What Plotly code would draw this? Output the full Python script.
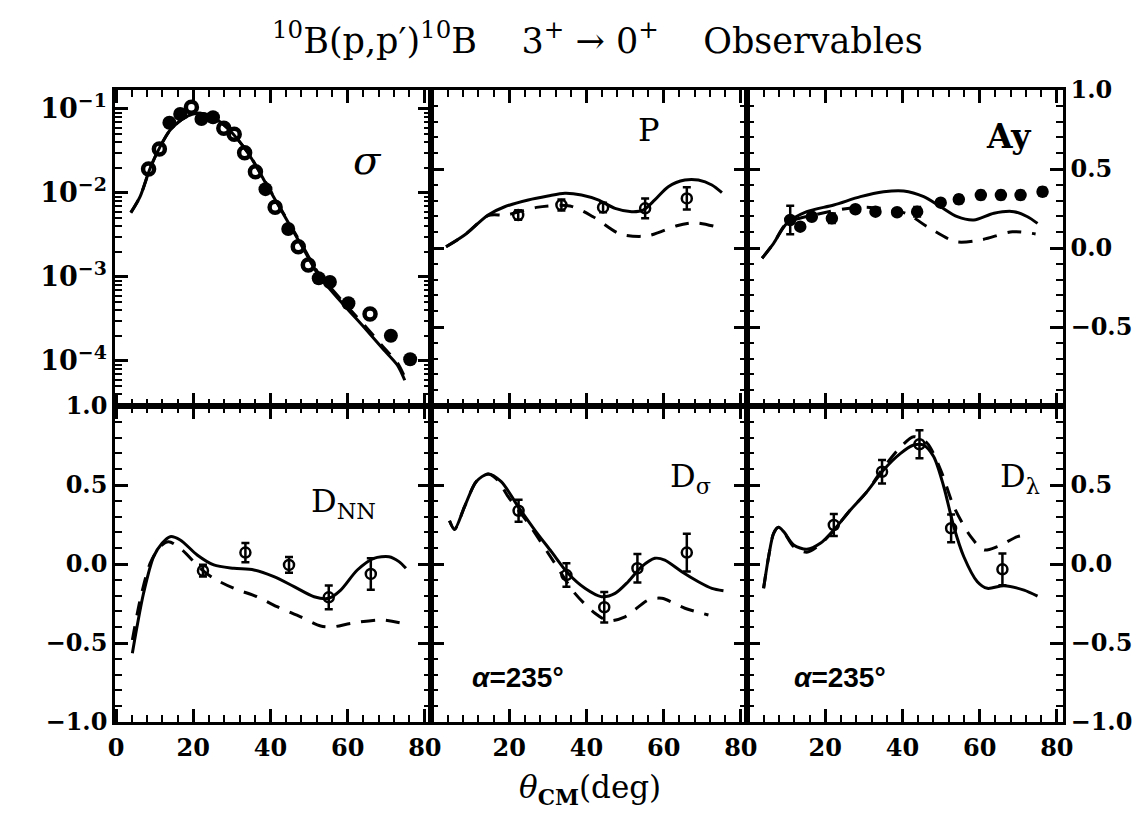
import plotly.graph_objects as go

# ---------------- data ----------------
# panel 1: cross section (log)
sig_open_x = [8.4, 11.2, 19.5, 27.9, 30.6, 33.3, 36.1, 41.2, 47.2, 49.8, 65.8]
sig_open_y = [0.0193, 0.0334, 0.105, 0.0589, 0.0501, 0.0302, 0.0179, 0.00676, 0.00229, 0.00139, 0.000363]
sig_fill_x = [13.8, 16.6, 22.1, 25.1, 38.7, 44.6, 52.5, 55.4, 60.2, 71.2, 76.2]
sig_fill_y = [0.0687, 0.0871, 0.0760, 0.0796, 0.0111, 0.00372, 0.000966, 0.000871, 0.000486, 0.000200, 0.000105]
sig_th_x = [3.8, 6.2, 8.8, 11.4, 14.0, 17.1, 19.7, 21.8, 24.4, 27.9, 31.3, 34.8, 38.3, 41.7, 45.2, 48.7, 52.1, 55.6, 59.0, 62.5, 66.0, 69.4, 72.9, 74.8]
sig_solid = [0.00583, 0.00904, 0.0197, 0.0356, 0.0562, 0.0753, 0.0865, 0.0887, 0.0826, 0.0646, 0.0447, 0.0270, 0.0143, 0.00759, 0.00398, 0.00209, 0.00111, 0.000700, 0.000465, 0.000309, 0.000204, 0.000135, 0.0000891, 0.0000589]
sig_dash = [0.00583, 0.00904, 0.0197, 0.0356, 0.0562, 0.0753, 0.0865, 0.0887, 0.0826, 0.0646, 0.0447, 0.0272, 0.0146, 0.00775, 0.00410, 0.00218, 0.00117, 0.000745, 0.000495, 0.000330, 0.000218, 0.000144, 0.0000950, 0.0000640]

# panel 2: P
p_sol_x = [3.6, 8.4, 14.5, 18.8, 24.9, 30.0, 34.4, 38.7, 43.0, 47.4, 51.7, 54.7, 57.7, 61.2, 65.5, 69.0, 72.5, 75.1]
p_sol_y = [0.008, 0.082, 0.209, 0.261, 0.304, 0.329, 0.346, 0.335, 0.304, 0.251, 0.230, 0.240, 0.304, 0.388, 0.430, 0.430, 0.399, 0.35]
p_dash_x = [3.6, 8.4, 14.5, 19.2, 27.0, 35.7, 41.7, 48.7, 55.6, 63.4, 68.1, 72.9]
p_dash_y = [0.008, 0.082, 0.205, 0.209, 0.257, 0.266, 0.198, 0.089, 0.076, 0.141, 0.160, 0.139]
p_dat_x = [22.3, 33.5, 44.3, 55.2, 66.0]
p_dat_y = [0.209, 0.272, 0.257, 0.251, 0.314]
p_dat_e = [0.03, 0.035, 0.03, 0.063, 0.07]

# panel 3: Ay
ay_sol_x = [3.6, 6.6, 10.0, 15.2, 22.2, 29.1, 35.1, 40.3, 45.5, 49.9, 54.2, 58.5, 63.7, 68.9, 72.4, 75.0]
ay_sol_y = [-0.065, 0.030, 0.156, 0.230, 0.272, 0.325, 0.356, 0.361, 0.325, 0.261, 0.198, 0.177, 0.220, 0.230, 0.198, 0.156]
ay_dash_x = [3.6, 6.6, 10.0, 17.0, 29.5, 40.8, 46.4, 53.8, 60.3, 68.5, 74.5]
ay_dash_y = [-0.065, 0.030, 0.156, 0.209, 0.259, 0.22, 0.135, 0.040, 0.051, 0.103, 0.089]
ay_dat_x = [10.9, 13.5, 16.5, 21.7, 27.8, 33.0, 38.6, 43.8, 49.9, 54.6, 60.3, 65.5, 70.6, 76.3]
ay_dat_y = [0.177, 0.135, 0.198, 0.188, 0.245, 0.23, 0.226, 0.23, 0.287, 0.308, 0.335, 0.335, 0.335, 0.356]
ay_dat_e = [0.09, 0.02, 0.015, 0.03, 0.015, 0.015, 0.015, 0.03, 0.015, 0.025, 0.025, 0.025, 0.025, 0.025]

# panel 4: D_NN
dnn_sol_x = [4.2, 5.4, 7.1, 9.7, 11.9, 14.0, 16.6, 21.0, 25.3, 30.5, 35.7, 40.9, 46.1, 51.3, 55.1, 58.2, 62.5, 66.8, 70.7, 73.3, 75.1]
dnn_sol_y = [-0.565, -0.397, -0.185, 0.046, 0.131, 0.173, 0.152, 0.057, -0.006, -0.027, -0.038, -0.080, -0.143, -0.207, -0.217, -0.165, -0.038, 0.036, 0.046, 0.015, -0.027]
dnn_dash_x = [4.2, 6.2, 8.8, 11.4, 13.6, 17.1, 21.8, 25.3, 30.5, 36.5, 41.7, 47.8, 53.0, 56.4, 60.8, 68.6, 75.1]
dnn_dash_y = [-0.481, -0.228, 0.004, 0.11, 0.141, 0.089, -0.027, -0.091, -0.154, -0.207, -0.27, -0.334, -0.392, -0.397, -0.376, -0.354, -0.38]
dnn_dat_x = [22.5, 33.5, 44.8, 55.1, 66.0]
dnn_dat_y = [-0.042, 0.072, -0.006, -0.211, -0.063]
dnn_dat_e = [0.037, 0.061, 0.05, 0.075, 0.10]

# panel 5: D_sigma
ds_sol_x = [4.5, 5.8, 8.4, 11.4, 14.5, 17.9, 22.3, 26.6, 30.9, 35.2, 39.6, 43.9, 47.4, 50.8, 54.3, 57.7, 60.3, 64.7, 69.0, 72.5, 75.5]
ds_sol_y = [0.274, 0.219, 0.363, 0.521, 0.570, 0.521, 0.363, 0.215, 0.078, -0.059, -0.154, -0.207, -0.186, -0.112, -0.017, 0.036, 0.025, -0.049, -0.112, -0.154, -0.169]
ds_dash_x = [4.5, 5.8, 8.4, 11.4, 14.5, 17.0, 19.7, 24.9, 31.8, 37.0, 42.2, 45.6, 50.0, 56.0, 59.5, 65.5, 71.6]
ds_dash_y = [0.274, 0.219, 0.363, 0.521, 0.570, 0.53, 0.426, 0.258, 0.004, -0.186, -0.312, -0.359, -0.334, -0.228, -0.217, -0.28, -0.323]
ds_dat_x = [22.4, 34.8, 44.6, 53.2, 66.0]
ds_dat_y = [0.337, -0.070, -0.274, -0.027, 0.072]
ds_dat_e = [0.07, 0.074, 0.097, 0.09, 0.12]

# panel 6: D_lambda
dl_sol_x = [4.0, 5.3, 6.6, 7.9, 9.2, 11.8, 15.2, 18.7, 22.2, 26.5, 30.8, 35.1, 39.5, 42.9, 45.5, 48.1, 50.7, 53.3, 55.9, 59.4, 62.0, 66.3, 71.5, 75.0]
dl_sol_y = [-0.154, 0.046, 0.194, 0.232, 0.205, 0.12, 0.093, 0.131, 0.215, 0.342, 0.458, 0.595, 0.70, 0.753, 0.753, 0.679, 0.489, 0.236, 0.046, -0.112, -0.154, -0.137, -0.165, -0.203]
dl_dash_x = [4.0, 5.3, 6.6, 7.9, 9.2, 11.8, 15.2, 18.7, 22.2, 26.5, 30.8, 35.1, 39.5, 42.9, 46.4, 49.9, 53.3, 57.7, 61.1, 64.6, 69.8, 72.4]
dl_dash_y = [-0.154, 0.046, 0.194, 0.232, 0.205, 0.11, 0.075, 0.125, 0.215, 0.342, 0.458, 0.61, 0.74, 0.806, 0.764, 0.595, 0.363, 0.173, 0.089, 0.11, 0.173, 0.184]
dl_dat_x = [22.2, 34.7, 44.4, 52.6, 65.9]
dl_dat_y = [0.247, 0.584, 0.758, 0.226, -0.034]
dl_dat_e = [0.069, 0.074, 0.088, 0.088, 0.10]

x_tick_vals = [0, 20, 40, 60, 80]
lin_tick_vals = [-1.0, -0.5, 0.0, 0.5, 1.0]
log_tick_vals = [1e-4, 1e-3, 1e-2, 1e-1]
log_tick_text = ["10<sup>\u22124</sup>", "10<sup>\u22123</sup>", "10<sup>\u22122</sup>", "10<sup>\u22121</sup>"]

# ---------------- figure ----------------
fig = go.Figure()
SOLID = dict(color="black", width=3, shape="spline", smoothing=0.8)
DASH = dict(color="black", width=3, dash="14px,11px", shape="spline", smoothing=0.8)


def add_panel(i, sx, sy, dx, dy, px=None, py=None, pe=None, sym="circle-open", msize=10):
    xa = "x" if i == 1 else f"x{i}"
    ya = "y" if i == 1 else f"y{i}"
    fig.add_trace(go.Scatter(x=dx, y=dy, mode="lines", line=DASH, xaxis=xa, yaxis=ya, showlegend=False))
    fig.add_trace(go.Scatter(x=sx, y=sy, mode="lines", line=SOLID, xaxis=xa, yaxis=ya, showlegend=False))
    if px is not None:
        fig.add_trace(go.Scatter(
            x=px, y=py, mode="markers", xaxis=xa, yaxis=ya, showlegend=False,
            marker=dict(symbol=sym, size=msize, color="black", line=dict(color="black", width=2.5)),
            error_y=dict(type="data", array=pe, visible=True, color="black", thickness=2.5, width=4)))


# panel 1
fig.add_trace(go.Scatter(x=sig_th_x, y=sig_dash, mode="lines", line=DASH, xaxis="x", yaxis="y", showlegend=False))
fig.add_trace(go.Scatter(x=sig_th_x, y=sig_solid, mode="lines", line=SOLID, xaxis="x", yaxis="y", showlegend=False))
fig.add_trace(go.Scatter(x=sig_fill_x, y=sig_fill_y, mode="markers", xaxis="x", yaxis="y", showlegend=False,
                         marker=dict(symbol="circle", size=14, color="black")))
fig.add_trace(go.Scatter(x=sig_open_x, y=sig_open_y, mode="markers", xaxis="x", yaxis="y", showlegend=False,
                         marker=dict(symbol="circle-open", size=11, color="black", line=dict(color="black", width=4.5))))

add_panel(2, p_sol_x, p_sol_y, p_dash_x, p_dash_y, p_dat_x, p_dat_y, p_dat_e)
add_panel(3, ay_sol_x, ay_sol_y, ay_dash_x, ay_dash_y, ay_dat_x, ay_dat_y, ay_dat_e, sym="circle", msize=10)
add_panel(4, dnn_sol_x, dnn_sol_y, dnn_dash_x, dnn_dash_y, dnn_dat_x, dnn_dat_y, dnn_dat_e)
add_panel(5, ds_sol_x, ds_sol_y, ds_dash_x, ds_dash_y, ds_dat_x, ds_dat_y, ds_dat_e)
add_panel(6, dl_sol_x, dl_sol_y, dl_dash_x, dl_dash_y, dl_dat_x, dl_dat_y, dl_dat_e)

TICKFONT = dict(family="DejaVu Serif", size=24, color="black", weight="bold")
col_dom = [[0, 1/3], [1/3, 2/3], [2/3, 1]]
row_dom = [[0.5, 1.0], [0.0, 0.5]]

layout = {}
for i in range(1, 7):
    r = (i - 1) // 3
    c = (i - 1) % 3
    xa = dict(domain=col_dom[c], anchor="y" if i == 1 else f"y{i}", range=[-0.3, 81.6],
              showgrid=False, zeroline=False, showline=True, linewidth=2.5, linecolor="black",
              mirror="ticks", ticks="inside", ticklen=13, tickwidth=2.5, tickcolor="black",
              tickmode="array", tickvals=x_tick_vals,
              minor=dict(tickmode="linear", tick0=0, dtick=4, ticks="inside", ticklen=7, tickwidth=2, tickcolor="black"),
              tickfont=TICKFONT, ticklabelstandoff=2)
    if r == 0:
        xa["showticklabels"] = False
    else:
        xa["ticktext"] = ["0", "20", "40", "60", "80"] if c == 0 else ["", "20", "40", "60", "80"]
    ya = dict(domain=row_dom[r], anchor="x" if i == 1 else f"x{i}",
              showgrid=False, zeroline=False, showline=True, linewidth=2.5, linecolor="black",
              mirror="ticks", ticks="inside", ticklen=13, tickwidth=2.5, tickcolor="black",
              tickfont=TICKFONT, ticklabelstandoff=0)
    if i == 1:
        ya.update(type="log", range=[-4.536, -0.774], tickmode="array", tickvals=log_tick_vals,
                  ticktext=log_tick_text, tickfont=dict(family="DejaVu Serif", size=27, color="black", weight="bold"),
                  minor=dict(tickmode="array",
                             tickvals=[k * 10.0 ** n for n in range(-5, 0) for k in range(2, 10)],
                             ticks="inside", ticklen=7, tickwidth=2, tickcolor="black"))
    else:
        ya.update(range=[-1, 1], tickmode="array", tickvals=lin_tick_vals,
                  minor=dict(tickmode="linear", tick0=0, dtick=0.1, ticks="inside", ticklen=7, tickwidth=2, tickcolor="black"))
        if c == 1:
            ya["showticklabels"] = False
        elif c == 2:
            ya["side"] = "right"
            if r == 0:
                ya["ticktext"] = ["", "\u22120.5", "0.0", "0.5", "1.0"]
            else:
                ya["ticktext"] = ["\u22121.0", "\u22120.5", "0.0", "0.5", ""]
        else:
            ya["ticktext"] = ["\u22121.0", "\u22120.5", "0.0", "0.5", "1.0"]
    key = "" if i == 1 else str(i)
    layout["xaxis" + key] = xa
    layout["yaxis" + key] = ya

fig.update_layout(**layout)

# page has an 8px body margin; figure fills the rest of the window
OFF = 8
W, H = 1138, 806
L, R, T, B = 107, 83, 82, 92


def px2paper(px, py):
    fx, fy = px - OFF, py - OFF
    return (fx - L) / (W - L - R), (H - B - fy) / (H - T - B)


ann = []


def label(text, px, py, size, family="DejaVu Serif", italic=False, weight="normal"):
    x, y = px2paper(px, py)
    ann.append(dict(text=text, x=x, y=y, xref="paper", yref="paper", showarrow=False,
                    xanchor="center", yanchor="middle",
                    font=dict(family=family, size=size, color="black",
                              style="italic" if italic else "normal", weight=weight)))


label("<sup>10</sup>B(p,p\u2032)<sup>10</sup>B&#160;&#160;&#160;&#160;3<sup>+</sup> \u2192 0<sup>+</sup>&#160;&#160;&#160;&#160;Observables",
      597, 38, 35, family="DejaVu Serif")
label("<i>\u03b8</i><sub><b>CM</b></sub>(deg)", 590, 790, 31, family="DejaVu Serif")
label("\u03c3", 367, 160, 40, italic=True)
label("P", 649, 130, 32)
label("Ay", 1008, 136, 33, weight="bold")
label("D<sub>NN</sub>", 343, 503, 32)
label("D<sub>\u03c3</sub>", 690, 478, 32)
label("D<sub>\u03bb</sub>", 1020, 478, 32)
label("<i>\u03b1</i>=235\u00b0", 518, 677, 28, family="Liberation Sans", weight="bold")
label("<i>\u03b1</i>=235\u00b0", 840, 677, 28, family="Liberation Sans", weight="bold")

fig.update_layout(width=W, height=H, margin=dict(l=L, r=R, t=T, b=B, autoexpand=False),
                  paper_bgcolor="white", plot_bgcolor="white", annotations=ann)

fig.write_html("out.html")
